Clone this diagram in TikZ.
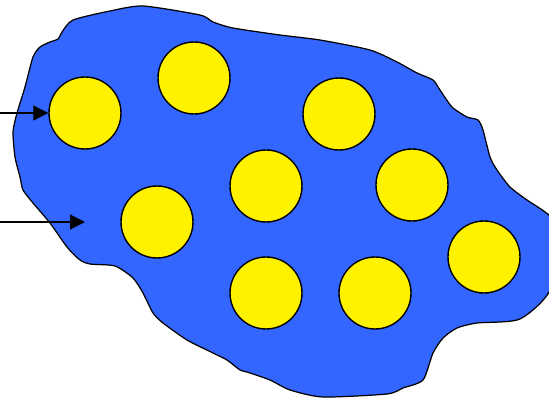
\documentclass[tikz,border=0pt]{standalone}
\usepackage{tikz}
\usetikzlibrary{arrows.meta}
\usetikzlibrary{calc}

\definecolor{cellblue}{RGB}{51,102,255}

\tikzset{
    ball/.style={circle, draw=black, line width=0.8pt, fill=yellow, minimum size=1.44cm, inner sep=0pt},
    feed/.style={-{Triangle[length=0.3cm, width=0.3cm]}, line width=0.6pt},
}

\begin{document}
\begin{tikzpicture}[x=0.02cm, y=-0.02cm]
    \useasboundingbox (0,0) rectangle (549,399);

    % cell body
    \draw[fill=cellblue, line width=0.7pt] plot[smooth cycle, tension=0.4] coordinates {
        (143,6) (200,15) (213,22) (233,28) (280,35) (320,40) (370,50) (397,62)
        (417,73) (433,80) (440,90) (452,107) (467,117) (478,120) (483,130)
        (490,157) (497,170) (510,187) (527,200) (545,212) (551,222) (551,288)
        (520,319) (477,323) (457,328) (443,338) (433,353) (423,380) (403,388)
        (387,394) (323,397) (290,390) (270,380) (247,372) (240,370) (227,360)
        (213,353) (187,340) (163,323) (153,313) (143,293) (133,278) (115,266)
        (90,264) (80,260) (67,247) (50,223) (33,203) (23,190) (20,177) (15,157)
        (13,132) (17,113) (25,87) (33,57) (40,47) (50,42) (58,39) (62,32)
        (73,20) (110,11)
    };

    % particles
    \node[ball] (b1) at (85,113) {};
    \node[ball] (b2) at (194,78) {};
    \node[ball] (b3) at (339,114) {};
    \node[ball] (b4) at (157,222) {};
    \node[ball] (b5) at (266,186) {};
    \node[ball] (b6) at (412,185) {};
    \node[ball] (b7) at (266,293) {};
    \node[ball] (b8) at (375,293) {};
    \node[ball] (b9) at (484,257) {};

    % incoming arrows
    \coordinate (in1) at (0,113);
    \coordinate (in2) at (0,222);
    \coordinate (hit2) at (85,222);
    \draw[feed] (in1) -- (b1.west);
    \draw[feed] (in2) -- (hit2);
\end{tikzpicture}
\end{document}
